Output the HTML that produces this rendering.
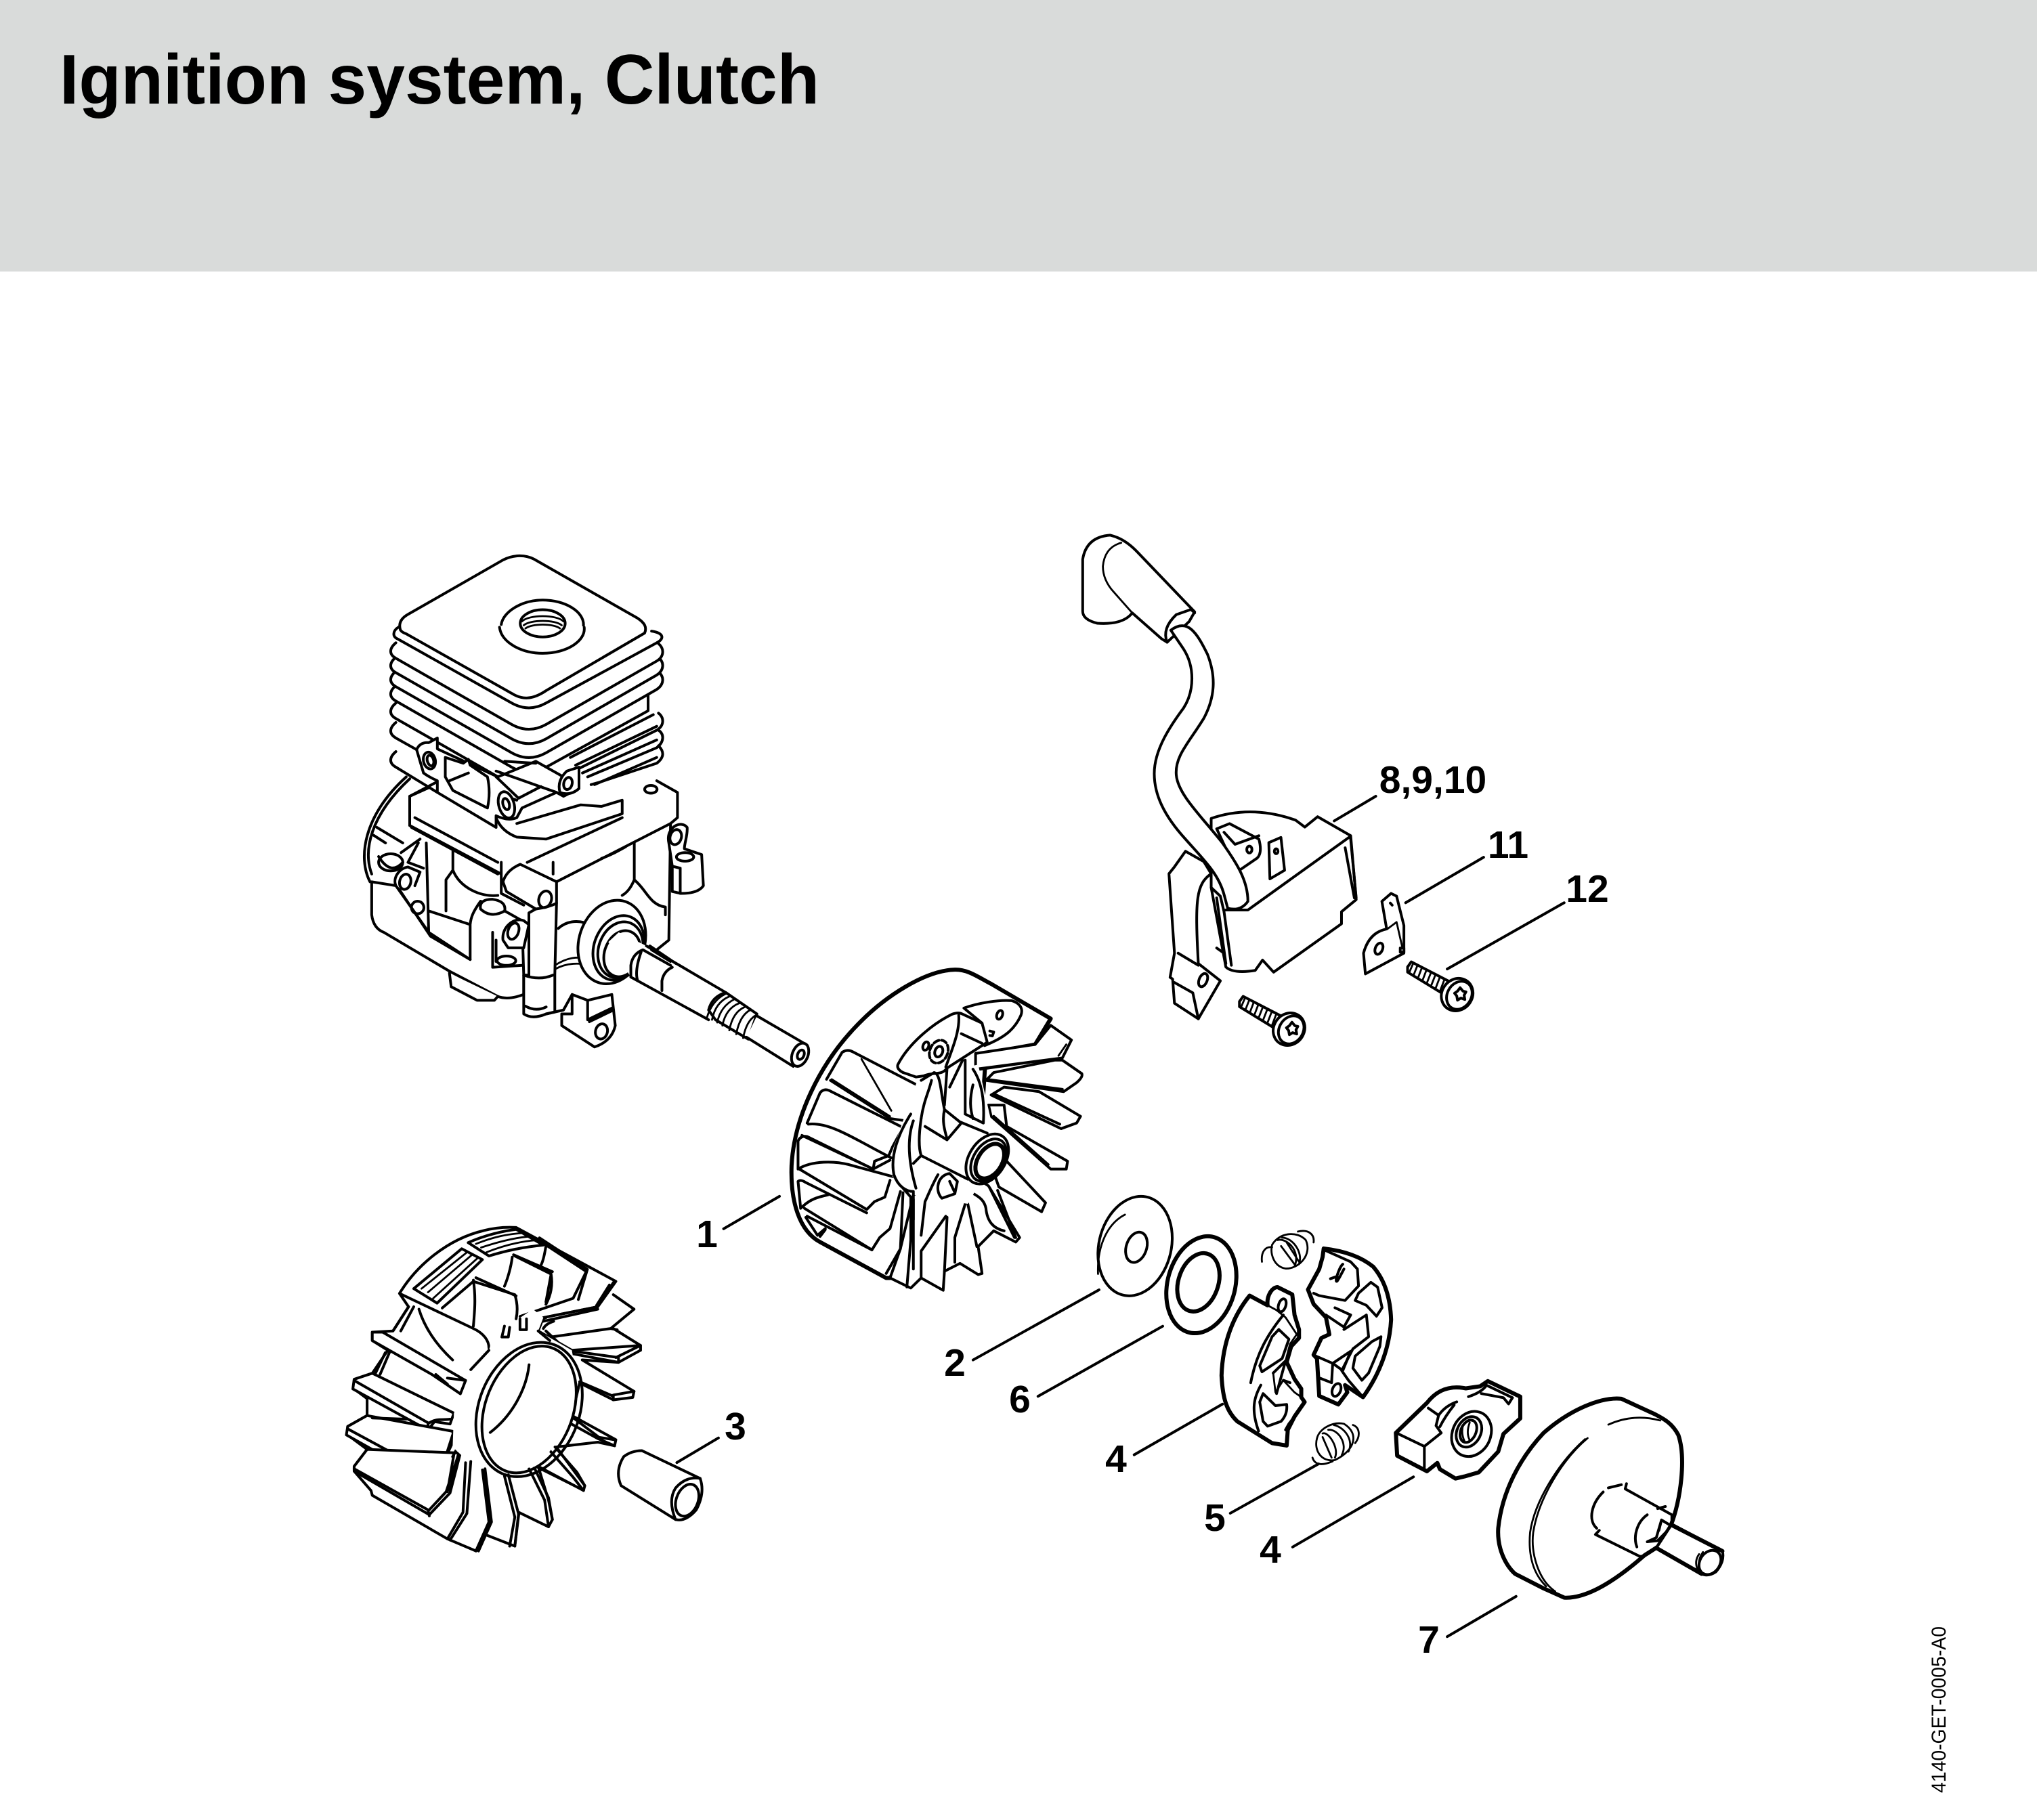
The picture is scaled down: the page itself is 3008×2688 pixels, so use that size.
<!DOCTYPE html>
<html lang="en"><head><meta charset="utf-8"><title>Ignition system, Clutch</title>
<style>
html,body{margin:0;padding:0;background:#fff}
svg{display:block}
.l *{vector-effect:non-scaling-stroke;fill:none;stroke:#000;stroke-width:4;stroke-linejoin:round;stroke-linecap:round}
.l .w{fill:#fff}
.l .f{fill:#fff;stroke:none}
.l .t{stroke-width:6}
.l .n{stroke-width:2.8}
.lab{font-family:"Liberation Sans",sans-serif;font-weight:700;font-size:57px;fill:#000;text-anchor:middle}
</style></head><body>
<svg xmlns="http://www.w3.org/2000/svg" width="3008" height="2688" viewBox="0 0 3008 2688">
<rect width="3008" height="2688" fill="#fff"/>
<rect width="3008" height="401" fill="#d9dbda"/>
<text x="88" y="153" font-family="'Liberation Sans',sans-serif" font-weight="700" font-size="104" textLength="1122" lengthAdjust="spacingAndGlyphs" fill="#000">Ignition system, Clutch</text>

<!-- ENGINE -->
<g class="l" transform="translate(480,780) scale(.5102,.574)">
<path class="w" d="M130,910C95,850 110,740 235,640M135,890C110,830 130,740 245,645"/>
<path d="M150,770L225,810M140,790L175,810"/>
<path class="f" d="M245,690L330,650L960,650L1020,680L1020,745L1000,760L995,1060L930,1110L830,1200L760,1215L665,1210L590,1200L300,1040L245,765Z"/>
<path d="M245,690L330,650M960,650L1020,680L1020,745L1000,760L995,1060L960,1085M245,690L245,765"/>
<path d="M245,765L510,890M260,745L500,860M250,770L500,890M510,860L510,940L575,970"/>
<path d="M585,860L860,745M660,860L660,890M670,910L1000,760M925,672a18,10 0 1 0 36,0a18,10 0 1 0 -36,0"/>
<path d="M370,830L370,880L350,905L350,985M370,880C390,925 450,950 500,945M300,985L420,1020M293,810L300,1040M275,800L220,835M270,810L240,860L285,875"/>
<path d="M895,810L895,905M860,945C880,935 890,915 895,905C930,930 940,970 985,975L985,995M800,850C830,840 850,830 870,820M675,1030C700,1010 730,1010 750,1015"/>
<path class="w" d="M135,910L135,995Q140,1030 170,1040L360,1140L500,1205Q530,1215 575,1200L575,1150L570,1010L520,985L450,960C430,985 422,1000 420,1020L420,1110L300,1040L205,920Z"/>
<path class="w" d="M205,920C195,900 215,875 240,872L275,885L260,920"/>
<path d="M215,930L305,1050L420,1110M485,1040L485,1130L570,1125M495,1060L495,1115"/>
<ellipse cx="232" cy="910" rx="16" ry="20" transform="rotate(20 232 910)"/>
<ellipse class="w" cx="190" cy="860" rx="35" ry="22"/>
<path d="M255,965a18,16 0 1 1 -1,1M155,845Q190,895 225,860"/>
<path class="w" d="M450,980Q445,955 485,955Q525,960 520,985Q480,1005 450,980Z"/>
<path class="w" d="M515,1060C510,1025 550,1000 575,1010L590,1020L575,1080L530,1080Z"/>
<ellipse cx="545" cy="1037" rx="15" ry="22" transform="rotate(25 545 1037)"/>
<ellipse cx="525" cy="1113" rx="27" ry="12"/>
<path class="w" d="M360,1145L365,1180L440,1215L490,1215L500,1205"/>
<path class="w" d="M590,990L590,1150L575,1150L575,1250Q600,1265 640,1250L665,1245L665,1150L670,965L610,980Z"/>
<path d="M575,1150Q620,1165 660,1150M580,1230Q610,1245 640,1232M640,1250L690,1240L715,1200"/>
<path class="w" d="M995,810C985,770 1030,750 1048,770C1050,790 1040,810 1040,825L1090,840L1095,920Q1080,940 1030,940L1005,935L1005,870Z"/>
<ellipse class="w" cx="1015" cy="795" rx="16" ry="20" transform="rotate(25 1015 795)"/>
<ellipse class="w" cx="1042" cy="846" rx="25" ry="11"/>
<path d="M1028,875L1028,940M1005,870L1028,875"/>
<path class="w" d="M515,910Q525,880 565,865L670,910L670,965Q650,975 610,980L525,935Z"/>
<ellipse cx="637" cy="955" rx="18" ry="22" transform="rotate(25 637 955)"/>
<path class="w" d="M685,1250L685,1280L780,1335Q830,1320 840,1280L830,1200L760,1215L715,1200L715,1250Z"/>
<ellipse cx="800" cy="1295" rx="17" ry="20" transform="rotate(25 800 1295)"/>
<path d="M760,1215L760,1265L830,1235M765,1270L835,1240"/>
<path class="n" d="M665,1125C700,1105 730,1100 770,1110M665,1135C700,1118 735,1118 770,1125"/>
<ellipse class="w" cx="830" cy="1065" rx="93" ry="112" transform="rotate(30 830 1065)"/>
<ellipse class="w" cx="850" cy="1080" rx="70" ry="87" transform="rotate(30 850 1080)"/>
<ellipse cx="855" cy="1085" rx="62" ry="75" transform="rotate(30 855 1085)"/>
<ellipse class="w" cx="860" cy="1095" rx="50" ry="62" transform="rotate(30 860 1095)"/>
<path class="f" d="M820,1065L850,1040L930,1075L1160,1195L1110,1265L885,1155Z"/>
<path d="M930,1075L1160,1195M885,1155L1110,1265M885,1155L885,1125Q890,1095 920,1085L1000,1125M905,1165Q895,1140 915,1090M975,1190L975,1165Q980,1140 1005,1130M940,1075L1015,1120M945,1085L1000,1115"/>
<path class="w" d="M1110,1240Q1120,1205 1160,1195L1250,1250L1225,1315L1130,1265Z"/>
<path class="n" d="M1105,1260Q1120,1215 1160,1198M1120,1265Q1130,1220 1170,1205M1135,1272Q1145,1230 1185,1212M1150,1280Q1160,1235 1200,1222M1170,1292Q1180,1245 1215,1232M1190,1302Q1200,1255 1230,1240M1210,1312Q1220,1265 1250,1252"/>
<path class="f" d="M1250,1255L1395,1330L1355,1385L1220,1310Z"/>
<path d="M1250,1255L1395,1330M1355,1385L1220,1310"/>
<ellipse class="w" cx="1375" cy="1355" rx="22" ry="32" transform="rotate(30 1375 1355)"/>
<ellipse cx="1377" cy="1355" rx="9" ry="13" transform="rotate(30 1377 1355)"/>
<!-- fins, bottom to top -->
<path class="w" d="M245,690L300,668"/>
<path d="M205,575C185,590 185,605 205,615L325,680M965,560C982,575 982,590 960,605L790,655L770,660"/>
<path d="M205,500C185,515 185,530 205,540L325,600M965,520C982,530 982,550 960,565L760,640"/>
<path class="w" d="M205,450C185,465 185,480 205,490L540,660Q590,685 640,660L960,520C982,508 982,488 965,476"/>
<path class="w" d="M205,405C185,420 185,435 205,445L540,615Q590,640 640,615L935,470L935,430"/>
<path class="w" d="M205,368C185,383 185,398 205,408L540,578Q590,603 640,578L960,415C982,402 982,382 965,370"/>
<path class="w" d="M205,332C185,347 185,362 205,372L540,542Q590,567 640,542L960,378C982,365 982,345 965,333"/>
<path class="w" d="M205,295C185,310 185,325 205,335L540,505Q590,530 640,505L960,342C982,330 982,310 965,297"/>
<path class="w" d="M212,255C195,265 195,280 210,285L540,450Q590,475 640,450L960,295C982,285 982,270 945,265"/>
<path class="w" d="M218,262C212,245 220,232 240,222L515,82C545,68 580,68 605,80L905,232C925,244 932,255 925,270L640,418C600,442 570,442 540,425L235,272Q222,268 218,262Z"/>
<path d="M510,248C515,215 570,185 630,185C695,185 750,215 748,250M505,255C510,295 570,322 630,322C700,322 755,290 750,255"/>
<ellipse cx="630" cy="245" rx="65" ry="35"/>
<path class="n" d="M570,240C590,222 670,222 690,240M575,250C595,235 665,235 685,250M580,258C600,245 660,245 680,258"/>
<!-- port flange -->
<path class="w" d="M265,570Q275,550 300,552L325,540L325,568L500,640L610,600L690,640L735,620L735,670L690,690L670,680L570,720L555,745Q530,755 495,740L495,770L325,680L325,650Q300,640 285,630Z"/>
<ellipse cx="302" cy="598" rx="17" ry="22" transform="rotate(-20 302 598)"/>
<ellipse cx="305" cy="598" rx="9" ry="14" transform="rotate(-20 305 598)"/>
<path class="w" d="M348,590L400,605L415,595L420,610L470,640Q480,680 470,720L370,675L348,640Z"/>
<path d="M360,650L415,630"/>
<path d="M495,625L670,680M495,640L560,695L625,665M555,700L520,690M520,600L610,605"/>
<ellipse class="w" cx="525" cy="712" rx="22" ry="35" transform="rotate(-20 525 712)"/>
<ellipse cx="524" cy="710" rx="9" ry="15" transform="rotate(-20 524 710)"/>
<path class="w" d="M680,680Q670,650 700,625L735,615L735,670Q710,690 680,680Z"/>
<ellipse cx="703" cy="657" rx="12" ry="16" transform="rotate(20 703 657)"/>
<path d="M710,590L950,480M725,610L960,510M745,630L960,545M780,660L960,590"/>
<path class="w" d="M555,760L740,712L800,716L860,700L860,735L640,800L555,795Q510,780 495,745"/>
</g>

<!-- FLYWHEEL 1 -->
<g class="l" transform="translate(1100,1400) scale(.3827,.3316)">
<path class="t w" d="M545,1470L290,1310C210,1260 175,1130 180,970C190,750 290,520 420,360C540,210 700,100 810,97C860,95 900,130 950,160L1180,315L1120,430L930,470L900,1000L560,1470Z"/>
<path d="M315,585L375,465Q395,450 415,462L680,620L620,770L560,760L330,590"/>
<path class="n" d="M335,585L560,750M450,495L565,725"/>
<path d="M240,780L290,645Q305,625 325,635L610,800L570,885L555,925L500,950L495,985L220,835M245,785C330,775 420,850 565,935"/>
<path d="M205,985L205,860Q215,835 240,840L495,985L560,945M205,985C260,945 350,950 400,965L575,1020M210,985L470,1165L500,1130L540,1110L560,1035"/>
<path d="M215,1160L205,1040Q215,1030 235,1045L470,1180M220,1155C250,1120 280,1110 320,1100M230,1160L490,1345L520,1290L560,1250L600,1085"/>
<path d="M240,1195L490,1345M235,1200L280,1280L310,1250M310,1255L290,1285"/>
<path class="w" d="M1180,345L1260,410L1225,490L890,540L890,470L1120,430Z"/>
<path class="n" d="M1240,430L1210,480M1225,490L890,545"/>
<path class="w" d="M1225,500L1300,560Q1305,575 1280,600L1230,640L930,590L960,555L1195,500Z"/>
<path d="M1225,630L930,585"/>
<path class="w" d="M1135,640L1295,750L1280,780L1220,805L950,655L1000,620Z"/>
<path d="M1215,785L960,650"/>
<path class="w" d="M1010,795L1245,950L1240,985L1180,985L950,750L940,700L1000,700Z"/>
<path d="M1170,965L960,750"/>
<path class="w" d="M1010,950L1160,1135L1145,1175L980,1065L960,1000Z"/>
<path class="w" d="M940,1060L1060,1290L1045,1310L960,1260L900,1330L915,1450L900,1455L830,1405L770,1440L765,1525L680,1470L640,1515L560,1470L600,1340L650,1100L860,1000Z"/>
<path d="M945,1070L1040,1290M975,1080L1045,1290M860,1140L895,1330M850,1140L810,1290L810,1400M780,1200L770,1440M775,1195L680,1350L680,1470M640,1110L640,1300L625,1510M650,1120L650,1430M610,1090L600,1340L545,1450"/>
<path d="M860,1070C870,1100 920,1100 930,1160C935,1220 960,1250 1000,1260"/>
<path class="f" d="M670,575L900,520L950,770L1000,900L900,1060L860,1140L650,1100L570,1020L570,900Z"/>
<path class="w" d="M845,268C900,245 980,230 1030,235C1060,245 1075,270 1065,300C1040,365 1000,400 925,435L915,335Z"/>
<ellipse cx="983" cy="298" rx="11" ry="20" transform="rotate(15 983 298)"/>
<path d="M945,370L960,375L955,392L945,390"/>
<path class="w" d="M590,520C630,430 720,340 800,295Q825,285 840,295L915,335L935,420L780,535C760,570 730,550 690,570L660,575L610,555Q585,540 590,520Z"/>
<path d="M825,300C830,370 800,450 775,530M835,382L915,425"/>
<ellipse cx="698" cy="437" rx="11" ry="19" transform="rotate(15 698 437)"/>
<ellipse cx="748" cy="462" rx="35" ry="52" transform="rotate(15 748 462)" stroke-dasharray="8 4"/>
<ellipse cx="748" cy="462" rx="15" ry="24" transform="rotate(15 748 462)"/>
<path d="M680,590L730,555C755,560 755,640 770,720M720,590C710,640 690,680 680,760M770,720L835,780L780,855L695,795M770,720C760,770 770,810 780,850"/>
<path d="M640,740C590,830 560,930 575,1010C590,1060 620,1085 650,1085M650,770C625,850 630,950 660,1070M680,760C670,840 670,890 680,925L860,1030M680,925L650,960"/>
<path d="M780,535L770,700M840,500L790,620M850,500L850,740M880,540C915,600 925,680 920,780M880,610C865,680 870,720 880,760M850,740L920,780M830,775L935,825"/>
<path d="M745,1010C720,1060 700,1120 695,1130L680,1280M650,1090L650,1210M610,1070L640,1110"/>
<path class="w" d="M790,1005C745,1010 730,1080 760,1115L810,1095L820,1040Z"/>
<path d="M790,1040L810,1090"/>
<ellipse class="w" cx="935" cy="940" rx="72" ry="118" transform="rotate(25 935 940)"/>
<ellipse cx="940" cy="945" rx="60" ry="100" transform="rotate(25 940 945)"/>
<ellipse class="t" cx="945" cy="950" rx="48" ry="82" transform="rotate(25 945 950)"/>
</g>

<!-- IGNITION COIL -->
<g class="l" transform="translate(1550,770) scale(.5421,.5102)">
<path class="w" d="M90,260L90,110Q100,45 165,40Q205,50 240,90L395,262L380,290L320,350L305,340L225,265Q200,300 130,295Q90,285 90,260Z"/>
<path class="n" d="M225,265L175,205Q145,170 145,130Q150,75 195,62"/>
<path d="M320,350Q305,310 345,270L385,255L395,265"/>
<path class="w" d="M440,860Q550,820 670,865L695,885L730,855L820,910L835,1095L795,1130L795,1165L610,1305L580,1270L560,1300Q500,1310 480,1290L440,1060Z"/>
<path d="M815,915L540,1125L480,1125M805,945L830,1090M820,920L835,1090M475,1130L495,1285M455,1090L480,1280"/>
<path class="w" d="M455,890L490,875L570,920Q580,960 565,975L510,1015Z"/>
<path d="M475,900L505,935L570,910"/>
<ellipse cx="544" cy="950" rx="7" ry="10"/>
<path class="w" d="M597,930L630,915L640,1010L600,1035Z"/>
<ellipse cx="617" cy="955" rx="5" ry="7"/>
<path class="w" d="M340,1000L370,955L420,985L440,1020C400,1050 395,1090 405,1280L465,1330L405,1440L340,1395L335,1325L328,1320L340,1250L325,1020Z"/>
<path d="M350,1250L405,1285M340,1335L390,1365L405,1440M440,1060L465,1085L475,1130M455,1235L475,1250"/>
<ellipse cx="418" cy="1328" rx="11" ry="20" transform="rotate(20 418 1328)"/>
<path class="w" d="M330,315C375,280 400,320 430,385C450,440 455,500 420,570C380,640 340,680 345,735C350,790 410,850 470,930C510,990 540,1040 540,1100Q520,1130 485,1120L475,1080C460,1020 420,980 370,920C310,850 285,790 285,730C285,660 330,590 365,540C395,490 395,420 365,370Z"/>
</g>

<!-- Screws + bracket (same space) -->
<g class="l" transform="translate(1550,770) scale(.5421,.5102)">
<path class="w" d="M905,1100L930,1077L945,1085L965,1170L965,1250L860,1310L855,1250Q870,1190 918,1180Z"/>
<path class="n" d="M920,1180L945,1160L960,1230"/>
<ellipse cx="897" cy="1237" rx="10" ry="17" transform="rotate(20 897 1237)"/>
<path d="M928,1105l5,6M955,1235h10v12h-10z"/>
<g><path class="w" d="M975,1290L985,1275L1085,1330L1075,1370L975,1305Z"/>
<path class="n" d="M990,1280L980,1305M1002,1285L992,1312M1014,1292L1004,1320M1026,1300L1016,1328M1038,1308L1028,1335M1050,1315L1040,1342M1062,1322L1052,1350M1074,1330L1064,1358"/>
<ellipse class="w" cx="1110" cy="1370" rx="42" ry="48" transform="rotate(25 1110 1370)"/>
<ellipse cx="1116" cy="1372" rx="33" ry="42" transform="rotate(25 1116 1372)"/>
<path d="M1118,1350l8,10l8,2l-5,10l2,12l-11,-4l-9,6l-2,-12l-6,-8l8,-6z"/></g>
<g transform="translate(-458,100)">
<path class="w" d="M975,1290L985,1275L1085,1330L1075,1370L975,1305Z"/>
<path class="n" d="M990,1280L980,1305M1002,1285L992,1312M1014,1292L1004,1320M1026,1300L1016,1328M1038,1308L1028,1335M1050,1315L1040,1342M1062,1322L1052,1350M1074,1330L1064,1358"/>
<ellipse class="w" cx="1110" cy="1370" rx="42" ry="48" transform="rotate(25 1110 1370)"/>
<ellipse cx="1116" cy="1372" rx="33" ry="42" transform="rotate(25 1116 1372)"/>
<path d="M1118,1350l8,10l8,2l-5,10l2,12l-11,-4l-9,6l-2,-12l-6,-8l8,-6z"/>
</g>
</g>

<!-- FLYWHEEL 3 -->
<g class="l" transform="translate(500,1780) scale(.3827,.3571)">
<path class="w" d="M235,365C300,250 420,140 560,105Q620,88 685,92L1070,315L1000,420L790,465L770,520L900,600L1165,580L1165,600L1080,650L940,640L1140,770L1135,795L1060,805L930,735L900,870L1070,970L1065,995L1000,980L840,1000L950,1160L945,1180L770,1080L810,1220L825,1300L810,1330L695,1270L680,1410L560,1360L530,1430L420,1380L130,1200L125,1180L60,1100L60,1080L110,1010L35,950L35,915L110,870L110,800L60,760L60,720L130,695L190,600L130,560L130,525L210,520L270,420Z"/>
<path d="M290,345L475,180L555,225L380,405Z"/>
<path class="n" d="M320,345L495,195M345,360L515,205M365,385L535,220"/>
<path d="M500,155C560,125 640,105 685,100L790,165C700,175 640,190 580,210Z"/>
<path class="n" d="M530,160C600,130 650,120 710,115M550,175C620,150 680,135 730,130M570,195C640,165 700,150 760,145"/>
<path d="M235,365L520,510C560,530 580,560 580,590M400,425L520,315L680,370M530,300L685,375M520,310C530,380 525,440 520,500M680,210L820,285L800,400M675,205L825,275M670,215C665,260 650,310 640,335M800,170C795,200 790,230 780,250M680,370Q695,420 685,470M820,285Q830,350 800,410"/>
<path d="M775,135L960,265L905,385L700,460M765,140L950,270M960,265L925,390M1060,320L1000,420L790,465L770,520M1045,330L995,415M790,480L1000,430"/>
<path d="M310,430C330,500 370,570 440,640M290,420L240,520M270,420L210,520M200,600L160,700M180,610L140,700"/>
<path class="w" d="M130,525L170,525L490,725L470,780L360,700L130,560Z"/>
<path d="M420,715L490,725M375,700L420,740"/>
<path class="w" d="M60,720L130,695L445,860L430,905L370,895L345,930L55,760Z"/>
<path d="M345,930L345,900L60,725M350,900C380,880 400,890 430,885"/>
<path class="w" d="M35,915L110,870L440,935L445,970L410,1050L320,1125L30,950Z"/>
<path d="M130,880L260,885M320,1125L320,1090L35,925M320,1095L350,1070L410,1050L440,950"/>
<path class="w" d="M60,1080L110,1010L470,1025L430,1190L350,1280L60,1100Z"/>
<path d="M60,1090L345,1260L350,1285M420,1185L445,1030M350,1260L415,1185L460,1040"/>
<path class="w" d="M800,520L880,600L1080,630L1080,650L880,610Z"/>
<path d="M770,510Q780,470 800,465M790,510Q800,490 830,480M820,545L1050,510L1075,515M1050,510L1140,430L1060,370M1070,630L1165,580L1165,600M1060,510L1165,580M1060,790L1060,805M1060,785L1140,770M930,730L1060,790"/>
<path d="M900,875L1005,960L1065,970M890,900L1000,965L1065,995M835,1000L920,1105L950,1160M815,1015L905,1125L945,1180M770,1085L910,1160"/>
<path d="M735,1090L795,1220L810,1330M755,1085L810,1210L825,1300"/>
<path d="M640,1120L680,1290L660,1410M655,1115L695,1280L680,1410"/>
<path d="M555,1095L580,1310L530,1430M565,1090L590,1310L540,1430"/>
<path d="M490,1065L480,1270L420,1380M510,1060L495,1275L430,1385M465,1015L430,1180M440,1040L455,1010"/>
<path class="f" d="M515,680L510,670L580,600L600,530L680,480L750,430L790,465L770,520L900,600L920,720L900,900L770,1080L640,1100L480,1040L440,1000L445,860Z"/>
<path d="M580,600L510,680M770,520L815,560M700,470L700,515L725,515L725,470M640,500L630,545L655,545L660,505"/>
<ellipse cx="735" cy="845" rx="170" ry="270" transform="rotate(18 735 845)"/>
<ellipse cx="735" cy="845" rx="195" ry="285" transform="rotate(18 735 845)" stroke-dasharray="780 90 380 60"/>
<path d="M735,660C725,760 670,870 585,940"/>
<path class="w" d="M1100,1040Q1130,1015 1170,1015L1395,1130Q1415,1190 1380,1260Q1340,1310 1300,1300L1090,1160Q1065,1100 1100,1040Z"/>
<path d="M1300,1300Q1270,1220 1300,1170Q1340,1120 1395,1130"/>
<ellipse cx="1345" cy="1220" rx="42" ry="68" transform="rotate(18 1345 1220)"/>
</g>

<!-- CLUTCH -->
<g class="l" transform="translate(1580,1760) scale(.3316,.3571)">
<ellipse cx="290" cy="225" rx="160" ry="210" transform="rotate(18 290 225)"/>
<path class="n" d="M125,340C120,220 170,130 245,95"/>
<ellipse cx="296" cy="230" rx="45" ry="65" transform="rotate(22 296 230)"/>
<ellipse class="t" cx="585" cy="385" rx="150" ry="205" transform="rotate(18 585 385)"/>
<ellipse class="t" cx="572" cy="375" rx="88" ry="125" transform="rotate(22 572 375)"/>
<path class="n" d="M900,220C930,170 1010,160 1050,200C1080,260 1020,320 960,318C910,310 890,260 900,220ZM925,200C960,190 1030,240 1000,310M945,190C990,190 1040,250 1020,300M855,290C850,250 870,225 900,230M1015,165C1060,155 1090,175 1085,210M940,225L1000,300M965,210L1020,290"/>
<path class="t w" d="M800,430L880,470C875,430 900,395 925,395L990,425L1000,510L1020,570L1020,605L985,640L965,705L1000,775L1030,815L1030,850L1045,870L1000,930L970,985L965,1050L900,1040L745,950C700,910 680,860 675,760C680,620 730,510 800,430Z"/>
<path class="n" d="M880,470L920,490L960,520L1010,590L980,630L960,700L905,750L915,830L950,780L1000,830L1030,850"/>
<path d="M850,800C820,850 805,900 840,990M950,510C880,590 830,670 805,790"/>
<ellipse cx="945" cy="470" rx="16" ry="28" transform="rotate(20 945 470)"/>
<path d="M930,570L975,610L945,690L855,745L845,720L900,600Z"/>
<path d="M905,750L960,700L920,835M950,780L980,790"/>
<path d="M860,835L915,885L965,880Q970,920 940,950L880,970L860,950L845,870Z"/>
<path d="M960,985L975,960L1000,930"/>
<path class="t w" d="M1130,235Q1270,250 1350,310Q1425,390 1430,530Q1420,700 1305,850L1225,800L1235,830L1195,880L1110,845L1100,690L1085,675L1120,605L1155,590L1140,520L1085,465L1060,405L1110,320L1125,270Z"/>
<path d="M1130,240L1250,290L1280,320L1285,390L1225,450L1110,430L1085,420M1215,300C1200,310 1175,380 1190,370L1200,355L1220,320M1160,360L1190,350M1180,480L1250,510L1220,560L1140,510M1220,570L1320,510L1330,600L1260,650L1210,740L1240,780L1305,850"/>
<path d="M1095,680L1170,710L1250,660L1215,740L1170,710L1165,790L1110,770"/>
<ellipse cx="1187" cy="820" rx="18" ry="28" transform="rotate(25 1187 820)"/>
<path d="M1285,420L1340,375L1370,395L1390,480L1365,515L1320,470L1270,450Z"/>
<path d="M1385,600L1345,620L1270,680L1260,730L1300,780L1330,750L1380,640Z"/>
<path class="n" d="M1100,1020C1110,980 1170,950 1220,960C1290,1000 1270,1070 1180,1110C1120,1120 1085,1070 1100,1020ZM1125,1000C1150,990 1200,1060 1180,1100M1150,985C1190,980 1240,1040 1210,1090M1175,965C1225,975 1265,1030 1240,1075M1260,965C1290,975 1295,1010 1270,1040M1080,1100C1090,1130 1120,1135 1170,1115M1125,1015L1165,1100"/>
</g>

<!-- HUB + DRUM -->
<g class="l" transform="translate(2000,2000) scale(.3827,.3061)">
<path class="t w" d="M160,380L280,235C320,170 370,150 430,165L485,155L515,130L640,205L640,310L575,385L555,470L480,570L425,590L390,600L330,555L320,525L280,565L165,490Z"/>
<path d="M170,385L270,445L335,380L315,345L325,295L285,260M270,445L270,545M325,295Q350,250 395,230M330,350Q350,300 385,245M440,205Q490,185 510,150L610,210L595,240L575,210L490,190"/>
<ellipse cx="452" cy="385" rx="75" ry="110" transform="rotate(12 452 385)"/>
<ellipse cx="442" cy="375" rx="47" ry="75" transform="rotate(15 442 375)"/>
<ellipse cx="440" cy="372" rx="30" ry="55" transform="rotate(15 440 372)"/>
<path class="n" d="M420,340Q410,380 425,420M445,330Q430,380 445,415"/>
<path class="t w" d="M1030,215C950,205 830,270 730,380C640,500 570,660 555,840C550,940 585,1020 620,1060L730,1130L810,1175C900,1180 1010,1090 1120,970L1170,930L1220,830C1260,700 1280,500 1250,390C1225,330 1190,310 1160,290Z"/>
<path class="n" d="M980,340C1050,300 1120,300 1180,320M900,405C800,510 710,700 690,860C680,960 710,1090 775,1145M890,410C790,520 695,710 678,860C670,970 690,1060 740,1120"/>
<path d="M1050,625L1045,650L1225,775L1225,800M1030,630L980,645M960,665C915,720 900,800 935,840M945,850L930,870L1100,975Q1125,980 1165,930M1130,775C1090,810 1075,880 1090,930M1170,745L1200,735"/>
<path d="M1185,800L1225,830L1170,900L1130,905L1165,885ZM1185,800L1175,850"/>
<path class="w" d="M1225,820L1420,950Q1430,1000 1395,1050Q1365,1075 1340,1060L1165,935Z"/>
<path class="t" d="M1225,825L1420,950M1165,935L1340,1060"/>
<ellipse cx="1372" cy="1005" rx="40" ry="60" transform="rotate(18 1372 1005)"/>
<path class="n" d="M1345,955Q1320,1000 1335,1045M1330,965Q1310,1000 1325,1040"/>
</g>

<!-- LEADERS -->
<g class="l" transform="scale(1.9184)">
<path d="M1027,632L1059,613M1082,695L1142,660M1114,746L1204,695M557,946L600,921M749,1047L846,993M799,1075L895,1021M521,1126L553,1107M873,1120L941,1081M947,1165L1015,1127M995,1191L1088,1137M1114,1260L1167,1229"/>
</g>
<text class="lab" x="2116" y="1171">8,9,10</text>
<text class="lab" x="2227" y="1267">11</text>
<text class="lab" x="2344" y="1332">12</text>
<text class="lab" x="1044" y="1842">1</text>
<text class="lab" x="1410" y="2032">2</text>
<text class="lab" x="1506" y="2086">6</text>
<text class="lab" x="1086" y="2126">3</text>
<text class="lab" x="1648" y="2174">4</text>
<text class="lab" x="1794" y="2261">5</text>
<text class="lab" x="1876" y="2308">4</text>
<text class="lab" x="2110" y="2441">7</text>
<text transform="translate(2873,2648) rotate(-90)" font-family="'Liberation Sans',sans-serif" font-size="30" textLength="246" lengthAdjust="spacingAndGlyphs" fill="#000">4140-GET-0005-A0</text>
</svg>
</body></html>
